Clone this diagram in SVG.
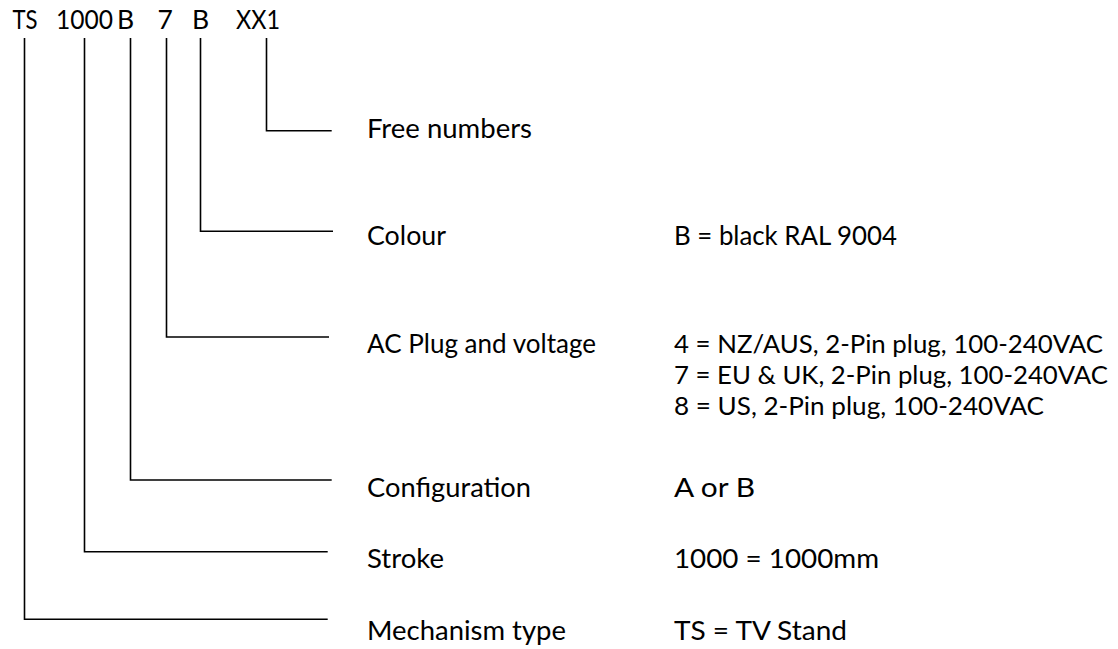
<svg xmlns="http://www.w3.org/2000/svg" width="1118" height="649" viewBox="0 0 1118 649">
<style>
text{font-family:Lato,"Liberation Sans",sans-serif;font-size:26.5px;fill:#000}
.v{font-size:25.5px}
.c{fill:none;stroke:#000;stroke-width:1.6}
</style>
<rect width="1118" height="649" fill="#fff"/>
<g id="code">
<text x="12.5" y="29.3" textLength="25" lengthAdjust="spacingAndGlyphs">TS</text>
<text x="56" y="29.3" textLength="57" lengthAdjust="spacingAndGlyphs">1000</text>
<text x="117" y="29.3">B</text>
<text x="157.5" y="29.3">7</text>
<text x="192" y="29.3">B</text>
<text x="236" y="29.3" textLength="44" lengthAdjust="spacingAndGlyphs">XX1</text>
</g>
<g id="connectors">
<path class="c" d="M266.5 38V130.7H331.7"/>
<path class="c" d="M200.5 38V231.3H333"/>
<path class="c" d="M166.5 38V337H329"/>
<path class="c" d="M130.5 38V480H331.7"/>
<path class="c" d="M84.5 38V551.7H327.7"/>
<path class="c" d="M24.5 38V619.3H327.7"/>
</g>
<g id="free-numbers"><text x="367" y="137.5" textLength="165" lengthAdjust="spacingAndGlyphs">Free numbers</text></g>
<g id="colour"><text x="367" y="244.5" textLength="79" lengthAdjust="spacingAndGlyphs">Colour</text><text x="674" y="244.5" textLength="223" lengthAdjust="spacingAndGlyphs">B = black RAL 9004</text></g>
<g id="ac-plug"><text x="367" y="353" textLength="229" lengthAdjust="spacingAndGlyphs">AC Plug and voltage</text>
<text class="v" x="674" y="353" textLength="429" lengthAdjust="spacingAndGlyphs">4 = NZ/AUS, 2-Pin plug, 100-240VAC</text>
<text class="v" x="674" y="384" textLength="434" lengthAdjust="spacingAndGlyphs">7 = EU &amp; UK, 2-Pin plug, 100-240VAC</text>
<text class="v" x="674" y="415" textLength="370" lengthAdjust="spacingAndGlyphs">8 = US, 2-Pin plug, 100-240VAC</text></g>
<g id="configuration"><text x="367" y="497" textLength="164" lengthAdjust="spacingAndGlyphs">Configuration</text><text x="674" y="497" textLength="81" lengthAdjust="spacingAndGlyphs">A or B</text></g>
<g id="stroke"><text x="367" y="568" textLength="77" lengthAdjust="spacingAndGlyphs">Stroke</text><text x="674" y="568" textLength="205" lengthAdjust="spacingAndGlyphs">1000 = 1000mm</text></g>
<g id="mechanism"><text x="367" y="640" textLength="199" lengthAdjust="spacingAndGlyphs">Mechanism type</text><text x="674" y="640" textLength="173" lengthAdjust="spacingAndGlyphs">TS = TV Stand</text></g>
</svg>
